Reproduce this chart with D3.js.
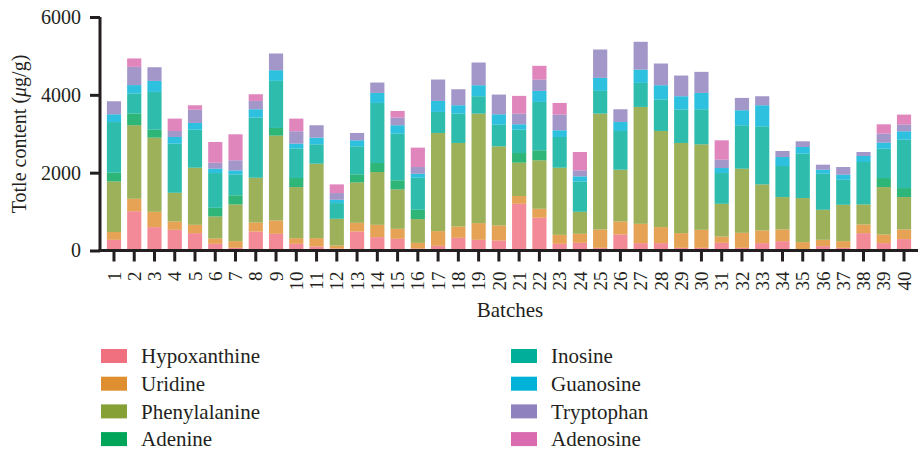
<!DOCTYPE html>
<html>
<head>
<meta charset="utf-8">
<script src="https://cdn.jsdelivr.net/npm/d3@7"></script>
<style>
  body { margin: 0; background: #fff; }
  text { font-family: "Liberation Serif", "DejaVu Serif", serif; fill: #231f20; }
</style>
</head>
<body>
<script>
// batches 1..40
var batches = d3.range(1, 41).map(String);

var seriesNames = ["Hypoxanthine", "Uridine", "Phenylalanine", "Adenine",
                   "Inosine", "Guanosine", "Tryptophan", "Adenosine"];
var seriesColors = ["#f07080", "#e08f30", "#87a036", "#00a55a",
                    "#00ae9a", "#00b2d8", "#8f80be", "#d96bae"];

// values (µg/g), one per batch
var hypoxanthine = [275, 1010, 600, 532, 446, 172, 69, 489, 429, 172,
                    103, 51, 489, 343, 300, 51, 120, 326, 275, 257,
                    1201, 841, 172, 197, 69, 412, 189, 189, 69, 69,
                    197, 69, 189, 240, 30, 112, 69, 446, 189, 292];
var uridine = [200, 320, 395, 214, 214, 137, 171, 232, 343, 145,
               214, 78, 223, 318, 258, 146, 378, 292, 429, 387,
               198, 232, 231, 232, 472, 334, 497, 412, 377, 463,
               163, 386, 326, 301, 185, 163, 171, 223, 223, 249];
var phenylalanine = [1300, 1890, 1905, 738, 1468, 566, 944, 1149, 2180, 1313,
                     1914, 686, 1038, 1355, 1012, 610, 2522, 2145, 2814, 2033,
                     858, 1244, 1725, 566, 2977, 1330, 3003, 2471, 2317, 2196,
                     841, 1647, 1184, 832, 1132, 772, 935, 515, 1218, 832];
var adenine = [225, 300, 205, 0, 0, 223, 232, 0, 197, 232,
               0, 0, 206, 232, 232, 240, 0, 0, 0, 0,
               248, 257, 0, 0, 0, 0, 0, 0, 0, 0,
               0, 0, 0, 0, 0, 0, 0, 0, 232, 231];
var inosine = [1300, 515, 970, 1262, 978, 892, 540, 1545, 1210, 755,
               497, 403, 721, 1544, 1201, 823, 541, 755, 446, 558,
               601, 1244, 789, 781, 583, 996, 618, 806, 858, 901,
               789, 1116, 1493, 798, 1141, 926, 644, 1090, 755, 1245];
var guanosine = [200, 215, 283, 171, 172, 112, 103, 214, 274, 129,
                 172, 86, 154, 258, 215, 103, 283, 214, 283, 265,
                 137, 283, 172, 129, 335, 231, 343, 369, 343, 421,
                 129, 386, 540, 231, 172, 103, 129, 154, 154, 214];
var tryptophan = [335, 470, 351, 155, 343, 155, 258, 215, 429, 317,
                  318, 172, 189, 266, 197, 172, 549, 412, 584, 507,
                  275, 292, 403, 154, 729, 326, 713, 558, 532, 540,
                  215, 317, 232, 155, 146, 129, 197, 103, 232, 172];
var adenosine = [0, 215, 0, 317, 111, 532, 669, 171, 0, 326,
                 0, 223, 0, 0, 171, 498, 0, 0, 0, 0,
                 455, 352, 300, 472, 0, 0, 0, 0, 0, 0,
                 497, 0, 0, 0, 0, 0, 0, 0, 240, 257];

var yTicks = [0, 2000, 4000, 6000];

var seriesValues = [hypoxanthine, uridine, phenylalanine, adenine,
                    inosine, guanosine, tryptophan, adenosine];

// table for d3.stack
var rows = batches.map((b, i) => {
  var r = { batch: b };
  seriesNames.forEach((s, k) => { r[s] = seriesValues[k][i]; });
  return r;
});

var width = 920, height = 460;
var svg = d3.select("body").append("svg")
  .attr("width", width).attr("height", height);

var x = d3.scaleBand().domain(batches).range([100, 918])
  .paddingInner(0.3).paddingOuter(0.34);
var y = d3.scaleLinear().domain([0, 6000]).range([250.5, 17]);
var color = d3.scaleOrdinal().domain(seriesNames).range(seriesColors);

var stacked = d3.stack().keys(seriesNames)(rows);

// bars
svg.append("g")
  .selectAll("g")
  .data(stacked)
  .enter()
  .append("g")
  .attr("fill", (d) => color(d.key))
  .attr("fill-opacity", 0.82)
  .selectAll("rect")
  .data((d) => d)
  .enter()
  .append("rect")
  .attr("x", (d) => x(d.data.batch))
  .attr("width", x.bandwidth())
  .attr("y", (d) => y(d[1]))
  .attr("height", (d) => y(d[0]) - y(d[1]));

// y axis
var yAxis = svg.append("g")
  .attr("transform", "translate(100,0)")
  .call(d3.axisLeft(y).tickValues(yTicks).tickFormat(d3.format("d"))
    .tickSize(10).tickSizeOuter(0).tickPadding(9));

// x axis
var xAxis = svg.append("g")
  .attr("transform", "translate(0,250.5)")
  .call(d3.axisBottom(x).tickSize(11).tickSizeOuter(0));

[yAxis, xAxis].forEach((a) => {
  a.select(".domain").attr("stroke", "#231f20").attr("stroke-width", 3);
  a.selectAll(".tick line").attr("stroke", "#231f20").attr("stroke-width", 3);
});
xAxis.select(".domain").attr("d", "M98.5,0H918");
yAxis.select(".domain").attr("d", "M0,17V252");

yAxis.selectAll("text").attr("font-size", 20).attr("fill", "#231f20");
xAxis.selectAll("text")
  .attr("font-size", 19)
  .attr("fill", "#231f20")
  .attr("text-anchor", "end")
  .attr("dy", "0.35em")
  .attr("transform", "translate(0,8) rotate(-90)")
  .attr("x", -13)
  .attr("y", 0);

// axis titles
var yTitle = svg.append("text")
  .attr("transform", "translate(26,134) rotate(-90)")
  .attr("text-anchor", "middle")
  .attr("font-size", 20);
yTitle.append("tspan").text("Totle content (");
yTitle.append("tspan").attr("font-style", "italic").text("\u03bc");
yTitle.append("tspan").text("g/g)");

svg.append("text")
  .attr("x", 510).attr("y", 317)
  .attr("text-anchor", "middle")
  .attr("font-size", 21)
  .text("Batches");

// legend, two columns of four
var legend = svg.append("g")
  .selectAll("g")
  .data(seriesNames)
  .enter()
  .append("g")
  .attr("transform", (d, i) =>
    `translate(${i < 4 ? 101 : 511},${356 + (i % 4) * 27.7})`);

legend.append("rect")
  .attr("x", 0).attr("y", -7)
  .attr("width", 26).attr("height", 14)
  .attr("fill", (d) => color(d));

legend.append("text")
  .attr("x", 40).attr("y", 0)
  .attr("dy", "0.35em")
  .attr("font-size", 21)
  .text((d) => d);
</script>
</body>
</html>
